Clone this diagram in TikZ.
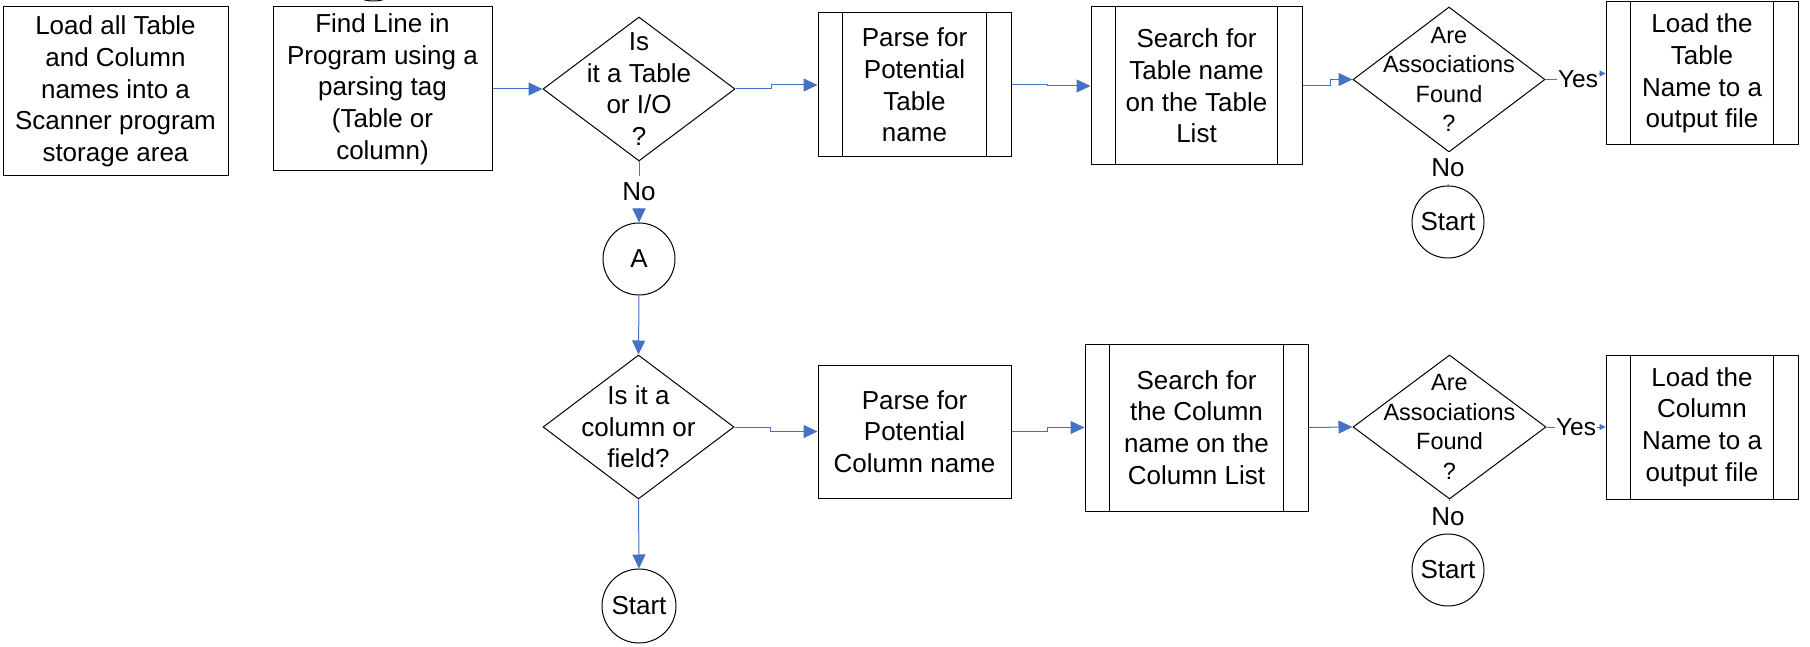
\documentclass[tikz,border=0pt]{standalone}
\usepackage{fontspec}
\setmainfont{Liberation Sans}
\usetikzlibrary{shapes.geometric,arrows.meta,calc}
\definecolor{flowblue}{RGB}{68,114,196}
\begin{document}
\begin{tikzpicture}[x=1pt,y=-1pt,
  every node/.style={font=\fontsize{26}{31.7}\selectfont, inner sep=0pt},
  proc/.style={draw=black, line width=1pt, align=center},
  predef/.style={proc, path picture={
      \draw[line width=1pt] ([xshift=24.5pt]path picture bounding box.north west) -- ([xshift=24.5pt]path picture bounding box.south west);
      \draw[line width=1pt] ([xshift=-24.5pt]path picture bounding box.north east) -- ([xshift=-24.5pt]path picture bounding box.south east);}},
  decision/.style={draw=black, line width=1pt, diamond, inner sep=0pt},
  dtext/.style={align=center},
  assoctext/.style={align=center, font=\fontsize{23.5}{29.5}\selectfont},
  term/.style={draw=black, circle, line width=1pt, minimum size=72pt, inner sep=0pt},
  lbl/.style={fill=white, minimum height=32pt, inner sep=1pt},
  yeslbl/.style={lbl, font=\fontsize{24.5}{29}\selectfont},
  conn/.style={draw=flowblue, line width=1pt, -{Triangle[length=14pt,width=13pt]}},
  yesconn/.style={draw=flowblue, line width=1pt, -{Triangle[length=6pt,width=6pt]}},
  plainconn/.style={draw=flowblue, line width=1pt}]

\path[use as bounding box, fill=white] (0,0) rectangle (1810,647);

% upper row
\node[proc, minimum width=225pt, minimum height=169pt] (load) at (115.5,91.5)
  {Load all Table\\and Column\\names into a\\Scanner program\\storage area};
\node[term] (offpage) at (373.5,-35) {};
\node[proc, minimum width=219pt, minimum height=164pt] (find) at (382.5,89)
  {Find Line in\\Program using a\\parsing tag\\(Table or\\column)};
\node[decision, minimum width=192pt, minimum height=144pt] (isTable) at (639,89) {};
\node[dtext] at (isTable) {Is\\it a Table\\or I/O\\?};
\node[predef, minimum width=193pt, minimum height=144pt] (parseT) at (914.5,85)
  {Parse for\\Potential\\Table\\name};
\node[predef, minimum width=211pt, minimum height=158pt] (searchT) at (1196.5,86)
  {Search for\\Table name\\on the Table\\List};
\node[decision, minimum width=192pt, minimum height=145pt] (assocT) at (1449,79.5) {};
\node[assoctext] at (assocT) {Are\\Associations\\Found\\?};
\node[predef, minimum width=192pt, minimum height=143pt] (loadT) at (1702,73.5)
  {Load the\\Table\\Name to a\\output file};
\node[term] (startT) at (1448,222) {Start};

% connector A and lower row
\node[term] (conA) at (639,259) {A};
\node[decision, minimum width=191pt, minimum height=144pt] (isCol) at (638.5,427) {};
\node[dtext] at (isCol) {Is it a\\column or\\field?};
\node[term, minimum size=74pt] (startL) at (639,606) {Start};
\node[proc, minimum width=193pt, minimum height=133pt] (parseC) at (914.5,431.5)
  {Parse for\\Potential\\Column name};
\node[predef, minimum width=223pt, minimum height=167pt] (searchC) at (1196.5,427.5)
  {Search for\\the Column\\name on the\\Column List};
\node[decision, minimum width=193pt, minimum height=144pt] (assocC) at (1449.5,427) {};
\node[assoctext] at (assocC) {Are\\Associations\\Found\\?};
\node[predef, minimum width=192pt, minimum height=144pt] (loadC) at (1702,427)
  {Load the\\Column\\Name to a\\output file};
\node[term] (startC) at (1448,570) {Start};

% flow lines
\draw[conn] (find.east) -- (isTable.west);
\draw[conn] (isTable.east) -- ++(36,0) |- (parseT.west);
\draw[conn] (parseT.east) -- ++(36,0) |- (searchT.west);
\draw[conn] (searchT.east) -- ++(28,0) |- (assocT.west);
\draw[yesconn] (assocT.east) -- ++(33,0) |- (loadT.west);
\draw[plainconn] (assocT.south) -- (startT.north);
\draw[conn] (isTable.south) -- (conA.north);
\draw[conn] (conA.south) -- (isCol.north);
\draw[conn] (isCol.south) -- (startL.north);
\draw[conn] (isCol.east) -- ++(36,0) |- (parseC.west);
\draw[conn] (parseC.east) -- ++(36,0) |- (searchC.west);
\draw[conn] (searchC.east) -- (assocC.west);
\draw[yesconn] (assocC.east) -- (loadC.west);
\draw[plainconn] (assocC.south) -- (startC.north);

% branch labels
\node[lbl] at (639,192) {No};
\node[lbl] at (1448,168) {No};
\node[lbl] at (1448,517) {No};
\node[yeslbl] at (1578,79) {Yes};
\node[yeslbl] at (1576,427) {Yes};
\end{tikzpicture}
\end{document}
